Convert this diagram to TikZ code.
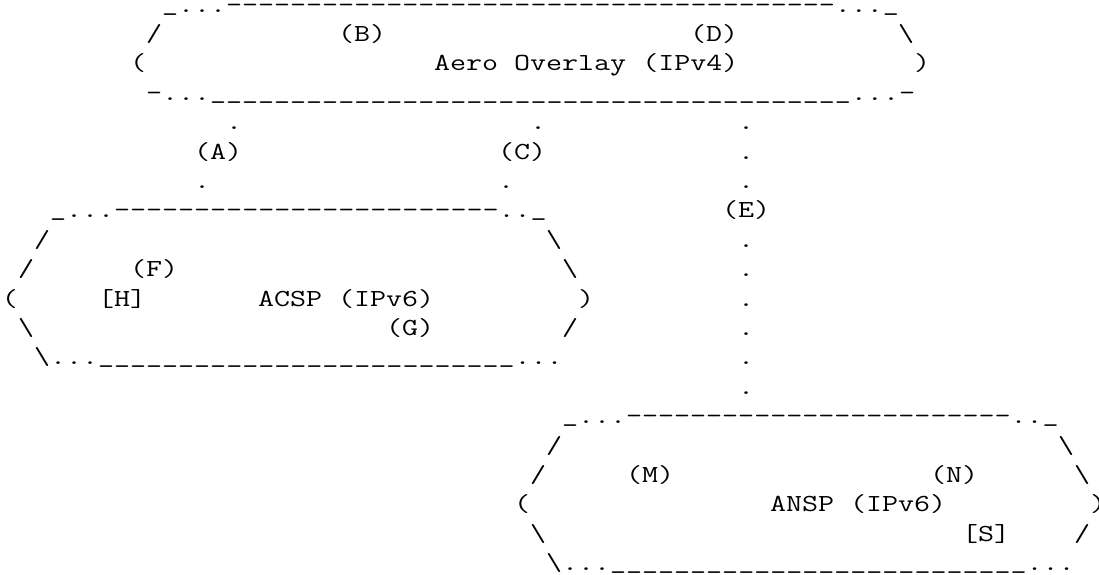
\documentclass[tikz,border=0pt]{standalone}
\usepackage{fontspec}
\setmonofont{lmmono12-regular.otf}
\ExplSyntaxOn
\NewDocumentCommand\rep{mm}{\prg_replicate:nn{#1}{#2}}
\ExplSyntaxOff
\newcommand\us{\raisebox{2pt}{\_}}
\newcommand\uss[1]{\raisebox{2pt}{\rep{#1}{\_}}}
\tikzset{t/.style={font=\ttfamily\fontsize{24.5pt}{24.5pt}\selectfont, inner sep=0pt, outer sep=0pt, anchor=base west, xscale=1.2698, transform shape}}
\begin{document}
\begin{tikzpicture}
\fill[white] (0pt,0pt) rectangle (1099pt,-574pt);
\useasboundingbox (0pt,0pt) rectangle (1099pt,-574pt);
\begin{scope}[shift={(2pt,-12pt)}, x=16pt, y=-29.4pt]
% Aero overlay
\node[t] (r1a) at (10,0) {\us...\rep{38}{-}...\us};
\node[t] (r2a) at (9,1) {/};
\node[t] (r2b) at (21,1) {(B)};
\node[t] (r2c) at (43,1) {(D)};
\node[t] (r2d) at (56,1) {\textbackslash};
\node[t] (r3a) at (8,2) {(};
\node[t] (r3b) at (27,2) {Aero Overlay (IPv4)};
\node[t] (r3c) at (57,2) {)};
\node[t] (r4a) at (9,3) {-...\uss{40}...-};
% links
\node[t] (r5a) at (14,4) {.};
\node[t] (r5b) at (33,4) {.};
\node[t] (r5c) at (46,4) {.};
\node[t] (r6a) at (12,5) {(A)};
\node[t] (r6b) at (31,5) {(C)};
\node[t] (r6c) at (46,5) {.};
\node[t] (r7a) at (12,6) {.};
\node[t] (r7b) at (31,6) {.};
\node[t] (r7c) at (46,6) {.};
% ACSP
\node[t] (r8a) at (3,7) {\us...\rep{24}{-}..\us};
\node[t] (r8b) at (45,7) {(E)};
\node[t] (r9a) at (2,8) {/};
\node[t] (r9b) at (34,8) {\textbackslash};
\node[t] (r9c) at (46,8) {.};
\node[t] (r10a) at (1,9) {/};
\node[t] (r10b) at (8,9) {(F)};
\node[t] (r10c) at (35,9) {\textbackslash};
\node[t] (r10d) at (46,9) {.};
\node[t] (r11a) at (0,10) {(};
\node[t] (r11b) at (6,10) {[H]};
\node[t] (r11c) at (16,10) {ACSP (IPv6)};
\node[t] (r11d) at (36,10) {)};
\node[t] (r11e) at (46,10) {.};
\node[t] (r12a) at (1,11) {\textbackslash};
\node[t] (r12b) at (24,11) {(G)};
\node[t] (r12c) at (35,11) {/};
\node[t] (r12d) at (46,11) {.};
\node[t] (r13a) at (2,12) {\textbackslash...\uss{26}...};
\node[t] (r13b) at (46,12) {.};
\node[t] (r14a) at (46,13) {.};
% ANSP
\node[t] (r15a) at (35,14) {\us...\rep{24}{-}..\us};
\node[t] (r16a) at (34,15) {/};
\node[t] (r16b) at (66,15) {\textbackslash};
\node[t] (r17a) at (33,16) {/};
\node[t] (r17b) at (39,16) {(M)};
\node[t] (r17c) at (58,16) {(N)};
\node[t] (r17d) at (67,16) {\textbackslash};
\node[t] (r18a) at (32,17) {(};
\node[t] (r18b) at (48,17) {ANSP (IPv6)};
\node[t] (r18c) at (68,17) {)};
\node[t] (r19a) at (33,18) {\textbackslash};
\node[t] (r19b) at (60,18) {[S]};
\node[t] (r19c) at (67,18) {/};
\node[t] (r20a) at (34,19) {\textbackslash...\uss{26}...};
\end{scope}
\end{tikzpicture}
\end{document}
